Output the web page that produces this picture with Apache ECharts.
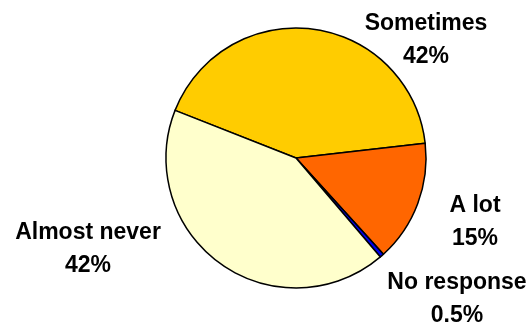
<!DOCTYPE html>
<html>
<head>
<meta charset="utf-8">
<script src="https://cdn.jsdelivr.net/npm/echarts@6/dist/echarts.min.js"></script>
<style>
  html, body { margin: 0; padding: 0; background: #fff; }
  #main { width: 532px; height: 327px; }
</style>
</head>
<body>
<div id="main"></div>
<script>
const categories = ['Sometimes', 'A lot', 'No response', 'Almost never']
const values = [42, 15, 0.5, 42]
const colors = ['#FFCC00', '#FF6600', '#0000EE', '#FFFFCC']

// where each label block sits (centre of the two lines)
const labelSpots = [
    [426, 40],
    [475, 222],
    [457, 299],
    [88, 249]
]

const chart = echarts.init(document.getElementById('main'))

let option = {
    animation: false,
    series: [
        {
            type: 'pie',
            center: [296, 158],
            radius: 130,
            startAngle: 158.5,
            clockwise: true,
            avoidLabelOverlap: false,
            itemStyle: {
                borderColor: '#000',
                borderWidth: 1.5
            },
            label: {
                show: true,
                formatter: '{b}\n{c}%',
                fontFamily: 'Liberation Sans, Arial, sans-serif',
                fontWeight: 'bold',
                fontSize: 23,
                lineHeight: 33,
                color: '#000',
                align: 'center'
            },
            labelLine: { show: false },
            labelLayout: function (params) {
                const p = labelSpots[params.dataIndex]
                return { x: p[0], y: p[1], align: 'center', verticalAlign: 'middle' }
            },
            emphasis: { disabled: true },
            data: categories.map((name, i) => ({
                name: name,
                value: values[i],
                itemStyle: { color: colors[i] }
            }))
        }
    ]
}

chart.setOption(option)
</script>
</body>
</html>
